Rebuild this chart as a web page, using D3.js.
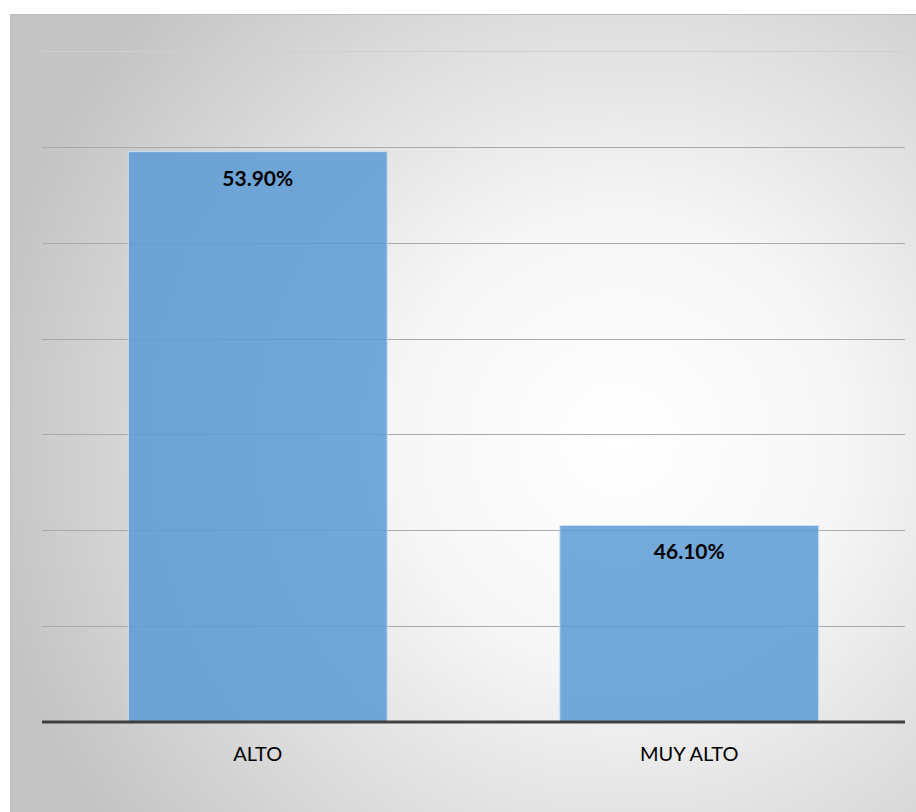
<!DOCTYPE html>
<html><head><meta charset="utf-8">
<script src="https://cdn.jsdelivr.net/npm/d3@7"></script>
<style>html,body{margin:0;padding:0;background:#fff;}svg{display:block;}</style>
</head><body>
<script>
const categories = ["ALTO", "MUY ALTO"];
const values = [53.9, 46.1];
const valueLabels = ["53.90%", "46.10%"];
const gridTicks = [42, 44, 46, 48, 50, 52, 54, 56];

const W = 916, H = 812;
const svg = d3.select("body").append("svg").attr("width", W).attr("height", H);
const defs = svg.append("defs");
const rg = defs.append("radialGradient").attr("id", "bg")
  .attr("gradientUnits", "userSpaceOnUse")
  .attr("cx", 620).attr("cy", 440).attr("r", 640);
rg.append("stop").attr("offset", "0").attr("stop-color", "#ffffff");
rg.append("stop").attr("offset", "0.35").attr("stop-color", "#f6f6f6");
rg.append("stop").attr("offset", "1").attr("stop-color", "#c4c4c4");

svg.append("rect").attr("x", 10).attr("y", 14).attr("width", W - 10).attr("height", H - 14)
  .attr("fill", "url(#bg)");
svg.append("line").attr("x1", 10).attr("x2", W).attr("y1", 14.5).attr("y2", 14.5)
  .attr("stroke", "#bdbdbd").attr("stroke-width", 1);
svg.append("line").attr("x1", 10.5).attr("x2", 10.5).attr("y1", 14).attr("y2", H)
  .attr("stroke", "#bdbdbd").attr("stroke-width", 1);

const x0 = 42, x1 = 905, yTop = 51, yBase = 722;
const x = d3.scaleBand().domain(categories).range([x0, x1]).paddingInner(0.4).paddingOuter(0.2);
const y = d3.scaleLinear().domain([42, 56]).range([yBase, yTop]);

// gridlines
svg.append("g").selectAll("line").data(gridTicks.filter(t => t > 42)).join("line")
  .attr("x1", x0).attr("x2", x1)
  .attr("y1", d => Math.round(y(d)) + 0.5).attr("y2", d => Math.round(y(d)) + 0.5)
  .attr("stroke", d => d === 56 ? "#cfcfcf" : "#a9a9a9").attr("stroke-width", 1);

// bars
svg.append("g").selectAll("rect").data(values).join("rect")
  .attr("x", (d, i) => x(categories[i]))
  .attr("y", d => y(d))
  .attr("width", x.bandwidth())
  .attr("height", d => yBase - y(d))
  .attr("fill", "#5b9bd5").attr("fill-opacity", 0.85)
  .attr("stroke", "#cfe0f1").attr("stroke-width", 1);

// value labels
svg.append("g").selectAll("text").data(values).join("text")
  .attr("x", (d, i) => x(categories[i]) + x.bandwidth() / 2)
  .attr("y", d => y(d) + 34)
  .attr("text-anchor", "middle")
  .attr("font-family", "Lato, 'Open Sans', sans-serif")
  .attr("font-weight", "bold").attr("font-size", 21).attr("fill", "#000")
  .text((d, i) => valueLabels[i]);

// baseline axis
const xAxis = d3.axisBottom(x).tickSize(0).tickPadding(25);
const ax = svg.append("g").attr("transform", `translate(0,${yBase})`).call(xAxis);
ax.select(".domain").attr("stroke", "#404040").attr("stroke-width", 3)
  .attr("d", `M${x0},0H${x1}`);
ax.selectAll("text").attr("font-family", "Lato, 'Open Sans', sans-serif")
  .attr("font-size", 20).attr("fill", "#000").attr("dy", "0.71em");
</script>
</body></html>
